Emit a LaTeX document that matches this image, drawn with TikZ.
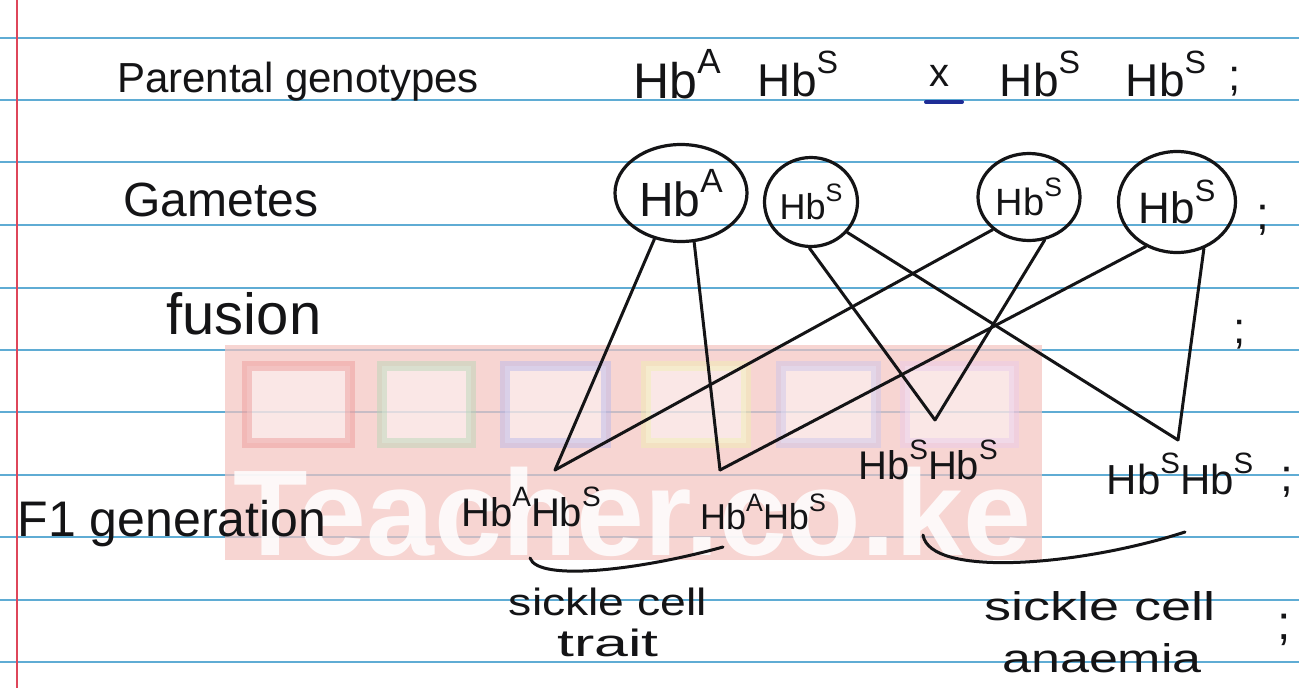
\documentclass[tikz,border=0pt]{standalone}
\usepackage{fontspec}
\setmainfont{Liberation Sans}
\usetikzlibrary{shapes.geometric}

\definecolor{inkc}{RGB}{20,20,22}
\definecolor{rulec}{RGB}{95,172,212}
\definecolor{marginc}{RGB}{222,70,90}
\definecolor{bluepen}{RGB}{30,45,150}
\definecolor{wmpink}{RGB}{244,196,192}

% Hb with a raised allele letter
\newcommand\allele[1]{Hb\raisebox{0.5em}{\scalebox{0.7}{#1}}}
\newcommand\fsz[1]{\fontsize{#1}{#1}\selectfont}
% loosely spaced handwriting: stretch a word sideways
\newcommand\wide[2]{\scalebox{#1}[1]{#2}}

\begin{document}
\begin{tikzpicture}[x=1pt,y=-1pt,
  ink/.style={draw=inkc, line width=3pt, line cap=round, line join=round},
  hand/.style={text=inkc, inner sep=0pt, anchor=center},
  gamete/.style={ellipse, draw=inkc, line width=3.2pt, inner sep=0pt, text=inkc},
  sq/.style={line width=10pt, opacity=0.45}
]
\useasboundingbox (0,0) rectangle (1299,688);
\fill[white] (0,0) rectangle (1299,688);

% ruled paper
\foreach \yy in {38,100,162,225,288,350,412,475,537,600,662}
  \draw[rulec, line width=1.8pt] (0,\yy) -- (1299,\yy);
\draw[marginc, line width=1.6pt] (17,0) -- (17,688);

% watermark
\begin{scope}
  \fill[wmpink, opacity=0.7] (225,345) rectangle (1042,560);
  \draw[sq, draw={rgb,255:red,236;green,150;blue,150}, fill=white] (247,366) rectangle (350,443);
  \draw[sq, draw={rgb,255:red,180;green,215;blue,180}, fill=white] (382,366) rectangle (471,443);
  \draw[sq, draw={rgb,255:red,180;green,180;blue,235}, fill=white] (505,366) rectangle (606,443);
  \draw[sq, draw={rgb,255:red,240;green,240;blue,175}, fill=white] (646,366) rectangle (746,443);
  \draw[sq, draw={rgb,255:red,200;green,195;blue,235}, fill=white] (781,366) rectangle (876,443);
  \draw[sq, draw={rgb,255:red,232;green,200;blue,235}, fill=white] (905,366) rectangle (1014,443);
  \node[text=white, opacity=0.85, inner sep=0pt, font=\bfseries\fsz{122}] (wm) at (632,512) {Teacher.co.ke};
\end{scope}

% row labels
\node[hand, font=\fsz{42}] (lpar) at (298,82) {Parental genotypes};
\node[hand, font=\fsz{48}] (lgam) at (221,200) {Gametes};
\node[hand, font=\fsz{58}] (lfus) at (244,314) {fusion};
\node[hand, font=\fsz{50}] (lf1) at (172,524) {F1 generation};

% parental genotypes
\node[hand, font=\fsz{50}] (p1) at (677,74) {\allele{A}};
\node[hand, font=\fsz{46}] (p2) at (798,74) {\allele{S}};
\node[hand, font=\fsz{40}] (cross) at (939,76) {x};
\draw[bluepen, line width=4pt, line cap=round] (926,102) -- (962,102);
\node[hand, font=\fsz{46}] (p3) at (1040,74) {\allele{S}};
\node[hand, font=\fsz{46}] (p4) at (1166,74) {\allele{S}};
\node[hand, font=\fsz{44}] (sc1) at (1235,82) {;};

% gametes
\node[gamete, font=\fsz{48}, minimum width=132pt, minimum height=97pt] (g1) at (681,193) {\allele{A}};
\node[gamete, font=\fsz{36}, minimum width=93pt, minimum height=89pt] (g2) at (811,202) {\allele{S}};
\node[gamete, font=\fsz{38}, minimum width=102pt, minimum height=87pt] (g3) at (1029,197) {\allele{S}};
\node[gamete, font=\fsz{44}, minimum width=117pt, minimum height=101pt] (g4) at (1177,202) {\allele{S}};
\node[hand, font=\fsz{46}] (sc2) at (1263,220) {;};
\node[hand, font=\fsz{44}] (sc3) at (1240,335) {;};

% F1 offspring
\node[hand, font=\fsz{40}] (f1) at (531,507) {\allele{A}\allele{S}};
\node[hand, font=\fsz{36}] (f2) at (763,512) {\allele{A}\allele{S}};
\node[hand, font=\fsz{40}] (f3) at (928,460) {\allele{S}\allele{S}};
\node[hand, font=\fsz{42}] (f4) at (1180,474) {\allele{S}\allele{S}};
\node[hand, font=\fsz{46}] (sc4) at (1287,482) {;};

% meeting points above the offspring
\coordinate (a1) at (555,470);
\coordinate (a2) at (720,470);
\coordinate (a3) at (935,420);
\coordinate (a4) at (1178,440);

% fusion lines
\draw[ink] (g1.240) -- (a1);
\draw[ink] (g1.285) -- (a2);
\draw[ink] (g2.268) -- (a3);
\draw[ink] (g2.320) -- (a4);
\draw[ink] (g3.222) -- (a1);
\draw[ink] (g3.290) -- (a3);
\draw[ink] (g4.235) -- (a2);
\draw[ink] (g4.300) -- (a4);

% groupings
\coordinate (b1s) at (530,558);
\coordinate (b1e) at (723,547);
\coordinate (b2s) at (923,535);
\coordinate (b2e) at (1185,532);
\draw[ink] (b1s) .. controls (538,582) and (640,570) .. (b1e);
\draw[ink] (b2s) .. controls (930,578) and (1080,566) .. (b2e);

% phenotype labels
\node[hand, font=\fsz{38}] (t1) at (608,602) {\wide{1.22}{sickle cell}};
\node[hand, font=\fsz{38}] (t2) at (608,643) {\wide{1.6}{trait}};
\node[hand, font=\fsz{40}] (t3) at (1100,606) {\wide{1.35}{sickle cell}};
\node[hand, font=\fsz{40}] (t4) at (1102,658) {\wide{1.3}{anaemia}};
\node[hand, font=\fsz{48}] (sc5) at (1284,630) {;};
\end{tikzpicture}
\end{document}
